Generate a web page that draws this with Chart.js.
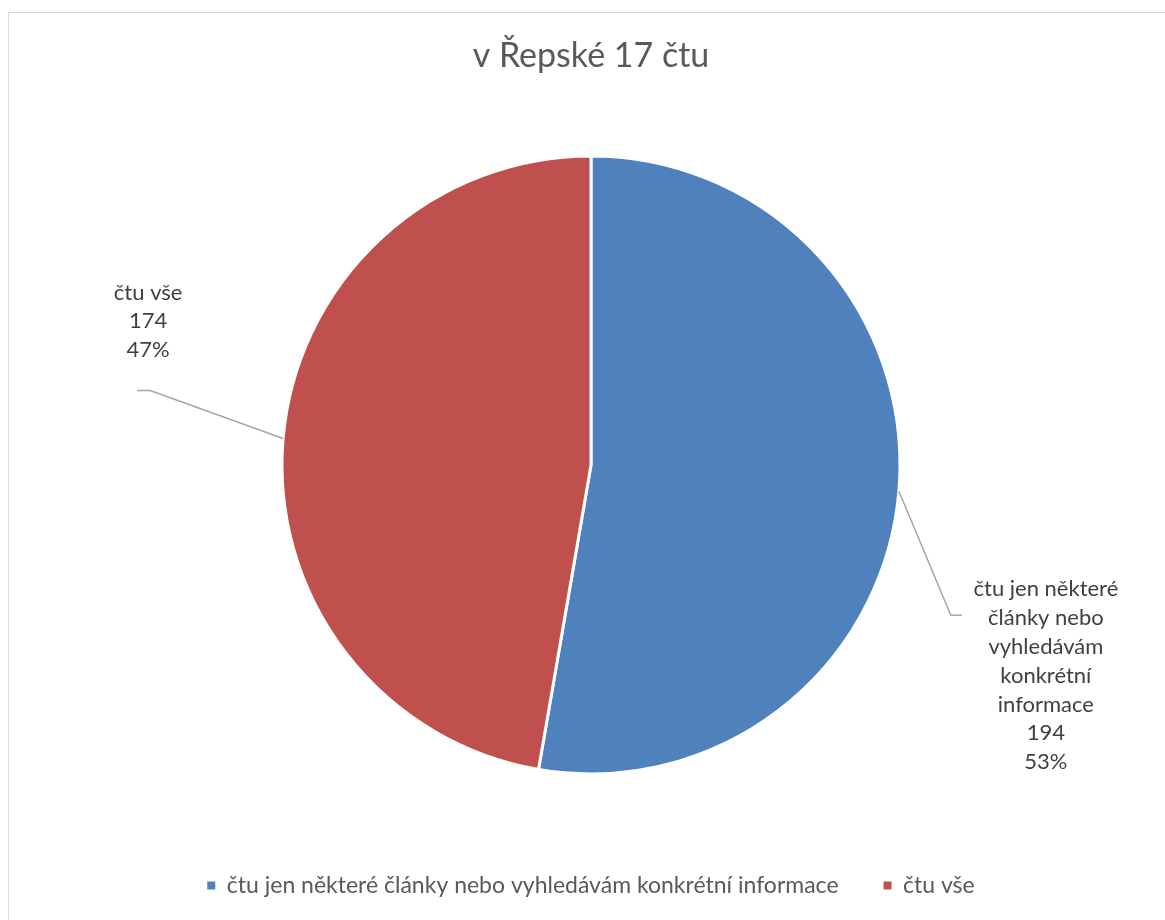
<!DOCTYPE html>
<html lang="cs">
<head>
<meta charset="utf-8">
<title>v Řepské 17 čtu</title>
<script src="https://cdn.jsdelivr.net/npm/chart.js@4.4.1/dist/chart.umd.min.js"></script>
<style>
  html, body { margin: 0; padding: 0; background: #fff; }
  #frame { position: absolute; left: 8px; top: 12px; width: 1170px; height: 920px; border: 1px solid #d9d9d9; }
  #pieChart { position: absolute; left: 0; top: 0; }
</style>
</head>
<body>
<div id="frame"></div>
<canvas id="pieChart" width="1165" height="920"></canvas>
<script>
// Data
const chartTitle = 'v Řepské 17 čtu';
const categories = ['čtu jen některé články nebo vyhledávám konkrétní informace', 'čtu vše'];
const counts = [194, 174];
const sliceColors = ['#4F81BD', '#C0504D'];

// Callout placement, relative to the point on the slice edge (layout only)
const calloutLayout = [
    { elbow: [52, 124], tail: 11, textDx: 95, textDy: -26 },
    { elbow: [-133, -48], tail: -13, textDx: -2, textDy: -98 }
];

// Break a label into lines no wider than maxWidth
function wrapText(ctx, text, maxWidth) {
    const words = text.split(' ');
    const lines = [];
    let line = '';
    words.forEach(function(w) {
        const test = line ? line + ' ' + w : w;
        if (line && ctx.measureText(test).width > maxWidth) {
            lines.push(line);
            line = w;
        } else {
            line = test;
        }
    });
    if (line) lines.push(line);
    return lines;
}

// Data labels with leader lines, like Excel's best-fit callouts
const calloutLabels = {
    id: 'calloutLabels',
    afterDatasetsDraw(chart) {
        const ctx = chart.ctx;
        const meta = chart.getDatasetMeta(0);
        const total = counts.reduce((a, b) => a + b, 0);
        ctx.save();
        ctx.font = '22px Lato';
        meta.data.forEach(function(arc, i) {
            const p = arc.getProps(['x', 'y', 'startAngle', 'endAngle', 'outerRadius'], true);
            const mid = (p.startAngle + p.endAngle) / 2;
            const sx = p.x + Math.cos(mid) * p.outerRadius;
            const sy = p.y + Math.sin(mid) * p.outerRadius;
            const lay = calloutLayout[i];
            const ex = sx + lay.elbow[0];
            const ey = sy + lay.elbow[1];

            ctx.strokeStyle = '#a6a6a6';
            ctx.lineWidth = 1.5;
            ctx.beginPath();
            ctx.moveTo(sx, sy);
            ctx.lineTo(ex, ey);
            ctx.lineTo(ex + lay.tail, ey);
            ctx.stroke();

            const pct = Math.round(counts[i] / total * 100) + '%';
            const lines = wrapText(ctx, categories[i], 160).concat([String(counts[i]), pct]);
            ctx.fillStyle = '#404040';
            ctx.textAlign = 'center';
            ctx.textBaseline = 'middle';
            lines.forEach(function(t, k) {
                ctx.fillText(t, ex + lay.textDx, ey + lay.textDy + k * 28.8);
            });
        });
        ctx.restore();
    }
};

function drawChart() {
    Chart.defaults.font.family = 'Lato';
    const ctx = document.getElementById('pieChart').getContext('2d');
    new Chart(ctx, {
        type: 'pie',
        data: {
            labels: categories,
            datasets: [{
                data: counts,
                backgroundColor: sliceColors,
                borderColor: '#ffffff',
                borderWidth: 3,
                radius: 309
            }]
        },
        options: {
            responsive: false,
            animation: false,
            layout: { padding: { top: 16, bottom: 13, left: 17, right: 0 } },
            plugins: {
                title: {
                    display: true,
                    text: chartTitle,
                    color: '#595959',
                    font: { size: 34, weight: 'normal' },
                    padding: { top: 20, bottom: 24 }
                },
                legend: {
                    position: 'bottom',
                    labels: {
                        boxWidth: 8,
                        boxHeight: 8,
                        padding: 45,
                        color: '#595959',
                        font: { size: 23 },
                        generateLabels(chart) {
                            const base = Chart.overrides.pie.plugins.legend.labels.generateLabels(chart);
                            return base.map(function(item) { item.lineWidth = 0; return item; });
                        }
                    }
                },
                tooltip: { enabled: false }
            }
        },
        plugins: [calloutLabels]
    });
}

if (document.fonts && document.fonts.load) {
    Promise.all([document.fonts.load('22px Lato'), document.fonts.load('34px Lato')])
        .then(drawChart, drawChart);
} else {
    drawChart();
}
</script>
</body>
</html>
